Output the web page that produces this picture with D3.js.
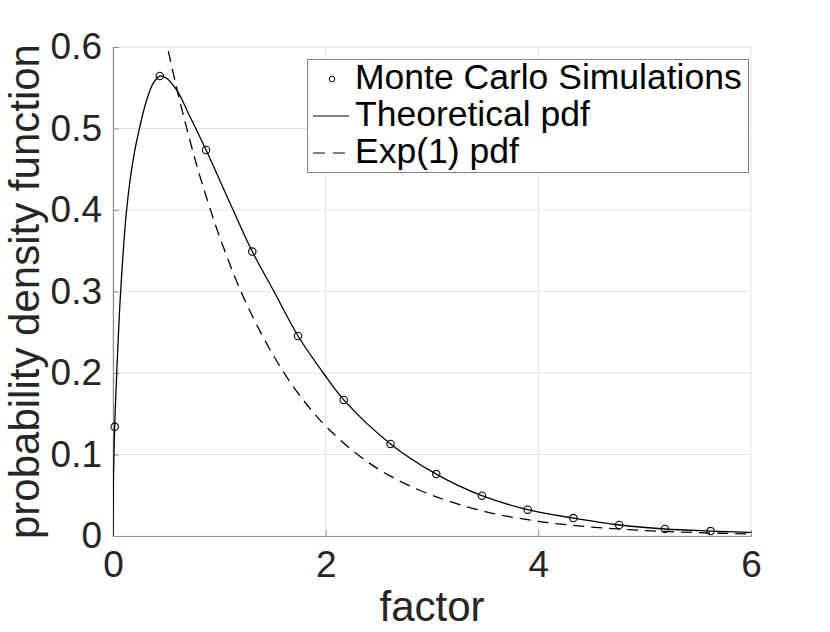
<!DOCTYPE html>
<html>
<head>
<meta charset="utf-8">
<script src="https://cdn.jsdelivr.net/npm/d3@7"></script>
<style>
  body { margin: 0; background: #fff; }
  text { font-family: "Liberation Sans", Arial, Helvetica, sans-serif; }
</style>
</head>
<body>
<div id="plot"></div>
<script>
// Monte Carlo histogram points
const mcX = [0.016, 0.44, 0.875, 1.31, 1.74, 2.17, 2.61, 3.04, 3.47, 3.9, 4.33, 4.76, 5.19, 5.62];
const mcY = [0.134, 0.5644, 0.4736, 0.349, 0.2454, 0.167, 0.113, 0.076, 0.0495, 0.0323, 0.022, 0.0135, 0.0086, 0.0061];

// Theoretical pdf curve
const theoX = [0, 0.004, 0.016, 0.035, 0.072, 0.128, 0.19, 0.248, 0.317, 0.38, 0.44, 0.5, 0.6, 0.724, 0.875,
  1.13, 1.31, 1.514, 1.74, 1.978, 2.17, 2.61, 3.04, 3.47, 3.9, 4.33, 4.76, 5.19, 5.62, 6.0];
const theoY = [0, 0.07, 0.134, 0.2, 0.3, 0.4, 0.462, 0.5, 0.535, 0.556, 0.5644, 0.562, 0.547, 0.5145, 0.4736,
  0.4, 0.349, 0.3, 0.2454, 0.2, 0.167, 0.113, 0.076, 0.0495, 0.0323, 0.022, 0.0135, 0.0086, 0.0061, 0.0045];

// Exp(1) pdf curve
const expX = [0.45, 0.5, 0.6, 0.7, 0.8, 0.9, 1.0, 1.2, 1.4, 1.6, 1.8, 2.0, 2.3, 2.6, 3.0, 3.5, 4.0, 4.5, 5.0, 5.5, 6.0];
const expY = [0.638, 0.607, 0.549, 0.497, 0.449, 0.407, 0.368, 0.301, 0.247, 0.202, 0.165, 0.135, 0.100, 0.074,
  0.050, 0.030, 0.018, 0.011, 0.0067, 0.0041, 0.0025];

const xTicks = [0, 2, 4, 6];
const yTicks = [0, 0.1, 0.2, 0.3, 0.4, 0.5, 0.6];
const legendLabels = ["Monte Carlo Simulations", "Theoretical pdf", "Exp(1) pdf"];

const W = 830, H = 632;
const margin = { top: 47, right: 79, bottom: 96, left: 113 };
const width = W - margin.left - margin.right;
const height = H - margin.top - margin.bottom;

const svg = d3.select("#plot")
  .append("svg")
  .attr("width", W)
  .attr("height", H);

const g = svg.append("g")
  .attr("transform", `translate(${margin.left}, ${margin.top})`);

const x = d3.scaleLinear().domain([0, 6]).range([0, width]);
const y = d3.scaleLinear().domain([0, 0.6]).range([height, 0]);

// grid
g.append("g")
  .selectAll("line")
  .data(yTicks)
  .enter()
  .append("line")
  .attr("x1", 0).attr("x2", width)
  .attr("y1", d => y(d)).attr("y2", d => y(d))
  .attr("stroke", "#e3e3e3").attr("stroke-width", 1);

g.append("g")
  .selectAll("line")
  .data(xTicks)
  .enter()
  .append("line")
  .attr("y1", 0).attr("y2", height)
  .attr("x1", d => x(d)).attr("x2", d => x(d))
  .attr("stroke", "#e3e3e3").attr("stroke-width", 1);

// axes
const axisColor = "#8f8f8f";
const xAxis = g.append("g")
  .attr("transform", `translate(0, ${height})`)
  .call(d3.axisBottom(x).tickValues(xTicks).tickSize(-6).tickSizeOuter(0).tickPadding(15).tickFormat(d3.format("d")));
const yAxis = g.append("g")
  .call(d3.axisLeft(y).tickValues(yTicks).tickSize(-6).tickSizeOuter(0).tickPadding(11).tickFormat(d => d === 0 ? "0" : d3.format(".1f")(d)));

[xAxis, yAxis].forEach(a => {
  a.select(".domain").attr("stroke", axisColor).attr("stroke-width", 1.2);
  a.selectAll(".tick line").attr("stroke", axisColor);
  a.selectAll(".tick text")
    .style("font-size", "37px")
    .attr("fill", "#262626")
    .style("font-family", "'Liberation Sans', Arial, sans-serif");
});
xAxis.selectAll(".tick text").attr("dy", "0.71em");

// clip for curves
svg.append("defs").append("clipPath").attr("id", "clip")
  .append("rect").attr("x", 0).attr("y", 0).attr("width", width).attr("height", height);

const plotArea = g.append("g").attr("clip-path", "url(#clip)");

const line = d3.line()
  .x(d => x(d[0]))
  .y(d => y(d[1]))
  .curve(d3.curveCatmullRom.alpha(0.5));

plotArea.append("path")
  .datum(theoX.map((v, i) => [v, theoY[i]]))
  .attr("d", line)
  .attr("fill", "none")
  .attr("stroke", "#000")
  .attr("stroke-width", 1.3);

plotArea.append("path")
  .datum(expX.map((v, i) => [v, expY[i]]))
  .attr("d", line)
  .attr("fill", "none")
  .attr("stroke", "#000")
  .attr("stroke-width", 1.3)
  .attr("stroke-dasharray", "11,7");

g.append("g")
  .selectAll("circle")
  .data(mcX.map((v, i) => [v, mcY[i]]))
  .enter()
  .append("circle")
  .attr("cx", d => x(d[0]))
  .attr("cy", d => y(d[1]))
  .attr("r", 3.7)
  .attr("fill", "none")
  .attr("stroke", "#000")
  .attr("stroke-width", 1.1);

// axis labels
svg.append("text")
  .attr("x", margin.left + width / 2)
  .attr("y", 621)
  .attr("text-anchor", "middle")
  .style("font-size", "42px")
  .attr("fill", "#262626")
  .text("factor");

svg.append("text")
  .attr("transform", `translate(39, ${margin.top + height / 2}) rotate(-90)`)
  .attr("text-anchor", "middle")
  .style("font-size", "42px")
  .attr("fill", "#262626")
  .text("probability density function");

// legend
const legend = svg.append("g");
legend.append("rect")
  .attr("x", 307.5).attr("y", 59.5)
  .attr("width", 441).attr("height", 113)
  .attr("fill", "#fff")
  .attr("stroke", "#808080")
  .attr("stroke-width", 1);

const rows = legend.selectAll(".row")
  .data(legendLabels)
  .enter()
  .append("g")
  .attr("class", "row")
  .attr("transform", (d, i) => `translate(0, ${89 + i * 37})`);

rows.append("text")
  .attr("x", 355)
  .attr("y", 0)
  .style("font-size", "35.5px")
  .attr("fill", "#000")
  .text(d => d);

rows.filter((d, i) => i === 0)
  .append("circle")
  .attr("cx", 332).attr("cy", -10)
  .attr("r", 2.8)
  .attr("fill", "none").attr("stroke", "#000").attr("stroke-width", 1);

rows.filter((d, i) => i > 0)
  .append("line")
  .attr("x1", 313).attr("x2", 349)
  .attr("y1", -10).attr("y2", -10)
  .attr("stroke", "#000")
  .attr("stroke-width", 1)
  .attr("stroke-dasharray", (d, i) => i === 1 ? "12,8" : null);
</script>
</body>
</html>
